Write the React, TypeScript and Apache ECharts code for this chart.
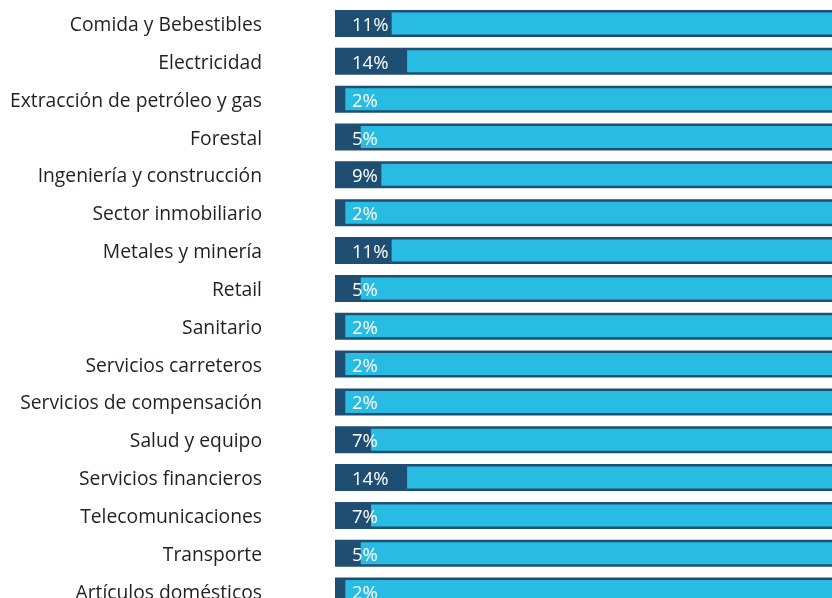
import React, { useEffect, useRef } from "react";
import * as echarts from "echarts";

const categories = [
  "Comida y Bebestibles",
  "Electricidad",
  "Extracción de petróleo y gas",
  "Forestal",
  "Ingeniería y construcción",
  "Sector inmobiliario",
  "Metales y minería",
  "Retail",
  "Sanitario",
  "Servicios carreteros",
  "Servicios de compensación",
  "Salud y equipo",
  "Servicios financieros",
  "Telecomunicaciones",
  "Transporte",
  "Artículos domésticos",
];
const values = [11, 14, 2, 5, 9, 2, 11, 5, 2, 2, 2, 7, 14, 7, 5, 2];
const totals = categories.map(() => 100);
const remainder = values.map((v) => 100 - v);

const NAVY = "#1e4f72";
const LIGHT = "#29bce3";

export default function App() {
  const ref = useRef<HTMLDivElement>(null);
  useEffect(() => {
    const chart = echarts.init(ref.current!, null, { renderer: "svg" });
    chart.setOption({
      animation: false,
      grid: { left: 335, right: 0, top: 4.6, bottom: 0, containLabel: false },
      xAxis: { type: "value", min: 0, max: 100, show: false },
      yAxis: [
        {
          type: "category",
          data: categories,
          inverse: true,
          axisLine: { show: false },
          axisTick: { show: false },
          axisLabel: {
            margin: 73,
            color: "#231f20",
            fontSize: 19.3,
            fontFamily: "Open Sans",
          },
        },
        {
          type: "category",
          data: categories,
          inverse: true,
          show: false,
          position: "left",
        },
      ],
      series: [
        {
          type: "bar",
          yAxisIndex: 0,
          data: totals,
          barWidth: 27,
          itemStyle: { color: NAVY },
          z: 1,
        },
        {
          type: "bar",
          yAxisIndex: 1,
          stack: "s",
          data: values,
          barWidth: 22,
          itemStyle: { color: "transparent" },
          silent: true,
          z: 2,
        },
        {
          type: "bar",
          yAxisIndex: 1,
          stack: "s",
          data: remainder,
          barWidth: 22,
          itemStyle: { color: LIGHT },
          z: 2,
        },
        {
          type: "bar",
          yAxisIndex: 0,
          data: totals,
          barWidth: 27,
          barGap: "-100%",
          itemStyle: { color: "transparent" },
          silent: true,
          z: 5,
          label: {
            show: true,
            position: "insideLeft",
            distance: 17,
            color: "#ffffff",
            fontSize: 18.5,
            fontFamily: "Open Sans",
            formatter: (p: any) => values[p.dataIndex] + "%",
          },
        },
      ],
    });
    return () => chart.dispose();
  }, []);
  return (
    <div
      ref={ref}
      style={{ position: "fixed", left: 0, top: 0, width: 850, height: 610 }}
    />
  );
}
